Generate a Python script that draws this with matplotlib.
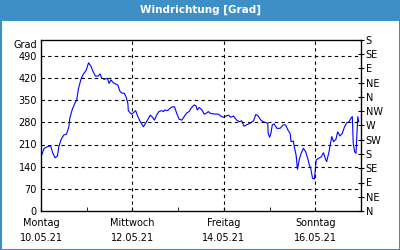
import numpy as np
import matplotlib.pyplot as plt
from matplotlib.patches import Rectangle

# Wind direction, time in days since Monday 10.05.21 00:00
days = [0.00, 0.07, 0.14, 0.21, 0.26, 0.31, 0.36, 0.39, 0.44, 0.50,
        0.56, 0.61, 0.63, 0.68, 0.74, 0.78, 0.82, 0.88, 0.93, 0.99,
        1.04, 1.09, 1.14, 1.19, 1.25, 1.29, 1.33, 1.39, 1.45, 1.49,
        1.53, 1.58, 1.63, 1.68, 1.73, 1.78, 1.82, 1.86, 1.90, 1.91,
        1.95, 1.98, 2.02, 2.07, 2.12, 2.17, 2.24, 2.31, 2.39, 2.44,
        2.48, 2.53, 2.58, 2.64, 2.68, 2.71, 2.77, 2.82, 2.87, 2.92,
        2.97, 3.02, 3.08, 3.14, 3.19, 3.24, 3.28, 3.35, 3.39, 3.42,
        3.46, 3.52, 3.57, 3.61, 3.66, 3.71, 3.81, 3.88, 3.93, 3.99,
        4.05, 4.10, 4.15, 4.21, 4.28, 4.34, 4.39, 4.44, 4.50, 4.57,
        4.65, 4.70, 4.75, 4.81, 4.86, 4.92, 4.96, 4.97, 5.00, 5.03,
        5.06, 5.10, 5.16, 5.23, 5.30, 5.35, 5.40, 5.45, 5.47, 5.52,
        5.54, 5.58, 5.61, 5.65, 5.69, 5.74, 5.79, 5.84, 5.87, 5.90,
        5.94, 5.98, 6.00, 6.02, 6.07, 6.13, 6.18, 6.23, 6.25, 6.30,
        6.34, 6.36, 6.40, 6.45, 6.49, 6.54, 6.59, 6.64, 6.69, 6.74,
        6.78, 6.81, 6.83, 6.86, 6.89, 6.93, 6.95]
grad = [171, 198, 203, 206, 182, 168, 174, 203, 226, 240,
        243, 266, 293, 319, 340, 350, 387, 419, 433, 445,
        468, 458, 440, 426, 426, 433, 419, 416, 419, 403,
        414, 405, 401, 398, 377, 372, 372, 361, 340, 317,
        310, 306, 310, 317, 298, 282, 266, 282, 303, 296,
        287, 303, 314, 317, 314, 319, 317, 324, 329, 329,
        308, 290, 287, 300, 310, 314, 324, 335, 332, 319,
        327, 319, 306, 308, 314, 308, 306, 306, 300, 296,
        300, 303, 296, 300, 287, 282, 285, 268, 272, 277,
        285, 305, 300, 287, 282, 279, 277, 245, 233, 245,
        272, 275, 261, 261, 272, 272, 256, 245, 219, 221,
        203, 177, 132, 163, 182, 198, 187, 163, 145, 135,
        103, 101, 129, 161, 166, 171, 184, 161, 156, 187,
        219, 235, 219, 226, 250, 237, 245, 266, 279, 282,
        293, 298, 214, 187, 182, 298, 282]

x_ticks = [0, 2, 4, 6]
x_labels = ['Montag\n10.05.21', 'Mittwoch\n12.05.21', 'Freitag\n14.05.21', 'Sonntag\n16.05.21']
y_ticks = [0, 70, 140, 210, 280, 350, 420, 490]
dir_ticks = [0, 45, 90, 135, 180, 225, 270, 315, 360, 405, 450, 495, 540]
dir_labels = ['N', 'NE', 'E', 'SE', 'S', 'SW', 'W', 'NW', 'N', 'NE', 'E', 'SE', 'S']

blue_bar = '#3d8fc6'
fs = 7

fig = plt.figure(figsize=(4, 2.5), dpi=100)
fig.patch.set_facecolor('white')

# title bar and frame
fig.patches.append(Rectangle((0, 1 - 21/250), 1, 21/250, transform=fig.transFigure,
                             facecolor=blue_bar, edgecolor='none', zorder=0))
fig.patches.append(Rectangle((0.5/400, 0.5/250), 399/400, 249/250, transform=fig.transFigure,
                             facecolor='none', edgecolor=blue_bar, linewidth=1.5, zorder=0))
fig.text(0.5, 1 - 10/250, 'Windrichtung [Grad]', color='white', fontsize=7.5,
         fontweight='bold', ha='center', va='center')

ax = fig.add_axes([41/400, 1 - 211/250, 320/400, 171/250])
ax.plot(days, grad, color='#0000ff', linewidth=0.8)

ax.set_xlim(0, 7)
ax.set_ylim(0, 540)

ax.set_xticks(x_ticks)
ax.set_xticklabels(x_labels, fontsize=fs, linespacing=1.6)
ax.set_xticks([1, 3, 5], minor=True)
ax.tick_params(axis='x', which='both', direction='in', length=3, pad=5)
ax.set_yticks(y_ticks)
ax.set_yticklabels([str(v) for v in y_ticks], fontsize=fs)
ax.tick_params(axis='y', length=0, pad=3)

for v in y_ticks[1:]:
    ax.axhline(v, color='black', linewidth=0.8, linestyle=(0, (3, 3)))
for d in x_ticks[1:]:
    ax.axvline(d, color='black', linewidth=0.8, linestyle=(0, (3, 3)))

for s in ax.spines.values():
    s.set_linewidth(0.9)

ax.text(-0.012, 1.0, 'Grad', transform=ax.transAxes, fontsize=fs,
        ha='right', va='top')

ax2 = ax.twinx()
ax2.set_ylim(0, 540)
ax2.set_yticks(dir_ticks)
ax2.set_yticklabels(dir_labels, fontsize=fs)
ax2.tick_params(axis='y', direction='inout', length=5, pad=1)

fig.savefig('out.png', dpi=100, facecolor='white')
